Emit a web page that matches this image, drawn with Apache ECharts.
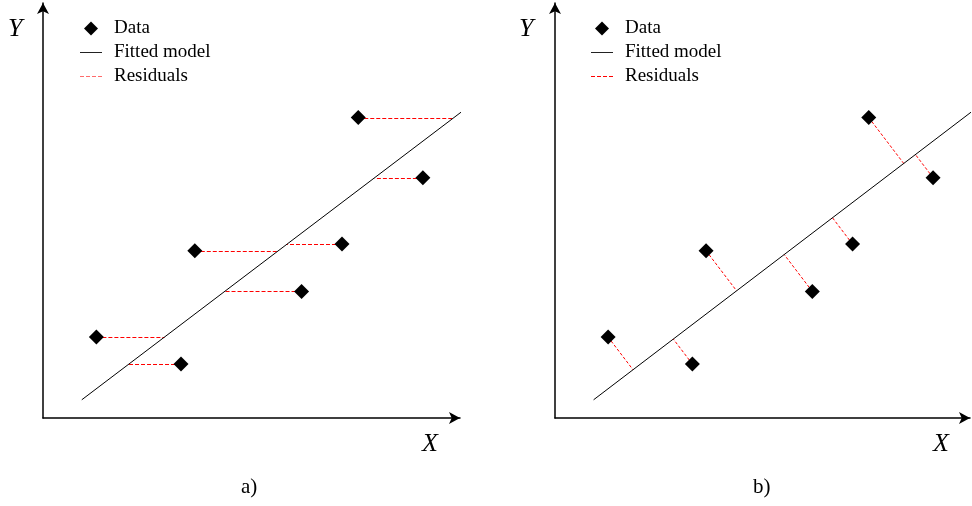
<!DOCTYPE html>
<html>
<head>
<meta charset="utf-8">
<script src="https://cdn.jsdelivr.net/npm/echarts@6/dist/echarts.min.js"></script>
<style>
  html, body {margin: 0; padding: 0; background: #fff;}
  #chart {width: 972px; height: 506px;}
</style>
</head>
<body>
<div id="chart"></div>
<script>
// data points (same in both panels)
var dataX = [1.28, 3.31, 3.64, 6.20, 7.17, 7.56, 9.11];
var dataY = [1.95, 1.30, 4.03, 3.05, 4.19, 7.24, 5.79];
// fitted model y = slope * x + intercept, drawn over fitX
var slope = 0.762;
var intercept = -0.27;
var fitX = [0.93, 10.22];
var panelNames = ['a)', 'b)'];

function pts() {
    return dataX.map(function (x, i) { return [x, dataY[i]]; });
}
function fitLine() {
    return fitX.map(function (x) { return [x, slope * x + intercept]; });
}
// a) horizontal residuals: [x, y, xEnd, yEnd]
function resHoriz() {
    return dataX.map(function (x, i) {
        var y = dataY[i];
        return [x, y, (y - intercept) / slope, y];
    });
}
// b) perpendicular residuals
function resPerp() {
    return dataX.map(function (x, i) {
        var y = dataY[i];
        var d = (slope * x - y + intercept) / (slope * slope + 1);
        return [x, y, x - slope * d, y + d];
    });
}

var chart = echarts.init(document.getElementById('chart'));
var font = "'Liberation Serif', 'Times New Roman', serif";

function axisOpt(i) {
    return {gridIndex: i, type: 'value', min: 0, max: 10,
        axisLine: {show: true, symbol: ['none', 'arrow'], symbolSize: [9, 11], lineStyle: {color: '#000', width: 1.5}},
        axisTick: {show: false}, axisLabel: {show: false}, splitLine: {show: false}};
}
function legend(left, resColor) {
    return {left: left, top: 14, orient: 'vertical', itemWidth: 22, itemHeight: 14, itemGap: 5,
        textStyle: {fontFamily: font, fontSize: 19, color: '#000', lineHeight: 19, padding: [0, 0, 0, 7]},
        data: [
            {name: 'Data', icon: 'path://M7,0L14,7L7,14L0,7Z', itemStyle: {color: '#000', borderWidth: 0}},
            {name: 'Fitted model', icon: 'path://M0,0h22v1h-22z', itemStyle: {color: '#222', borderWidth: 0}},
            {name: 'Residuals', icon: 'path://M0,0h4v1h-4zM6,0h4v1h-4zM12,0h4v1h-4zM18,0h4v1h-4z',
                itemStyle: {color: resColor, borderWidth: 0}}
        ]};
}

function residualSeries(i) {
    var dash = i === 0 ? [4, 2] : [3, 2];
    return {name: 'Residuals', type: 'custom', xAxisIndex: i, yAxisIndex: i, silent: true, clip: false,
        data: i === 0 ? resHoriz() : resPerp(),
        itemStyle: {color: '#f00'},
        renderItem: function (params, api) {
            var a = api.coord([api.value(0), api.value(1)]);
            var b = api.coord([api.value(2), api.value(3)]);
            var y1 = a[1], y2 = b[1];
            if (i === 0) { y1 = y2 = Math.round(a[1]) + 0.5; }  // crisp horizontal dashes
            return {type: 'line', shape: {x1: a[0], y1: y1, x2: b[0], y2: y2},
                style: {stroke: '#f00', lineWidth: 1, lineDash: dash, fill: null}};
        }};
}

var series = [];
[0, 1].forEach(function (i) {
    series.push({name: 'Fitted model', type: 'line', xAxisIndex: i, yAxisIndex: i, data: fitLine(),
        symbol: 'none', clip: false, silent: true, lineStyle: {color: '#000', width: 1}});
    series.push(residualSeries(i));
    series.push({name: 'Data', type: 'scatter', xAxisIndex: i, yAxisIndex: i, data: pts(),
        symbol: 'diamond', symbolSize: 15, itemStyle: {color: '#000', opacity: 1}});
});

var labelStyle = {fontFamily: font, fontSize: 26, fontStyle: 'italic', fill: '#000'};
var option = {
    animation: false,
    backgroundColor: '#fff',
    grid: [
        {left: 43, top: 3, width: 417, height: 415},
        {left: 555, top: 3, width: 415, height: 415}
    ],
    xAxis: [axisOpt(0), axisOpt(1)],
    yAxis: [axisOpt(0), axisOpt(1)],
    legend: [legend(75, '#ff6b6b'), legend(586, '#f00')],
    series: series,
    graphic: [
        {type: 'text', left: 8, top: 16, style: Object.assign({text: 'Y'}, labelStyle)},
        {type: 'text', left: 519, top: 16, style: Object.assign({text: 'Y'}, labelStyle)},
        {type: 'text', left: 422, top: 431, style: Object.assign({text: 'X'}, labelStyle)},
        {type: 'text', left: 933, top: 431, style: Object.assign({text: 'X'}, labelStyle)},
        {type: 'text', left: 241, top: 477, style: {text: panelNames[0], fontFamily: font, fontSize: 21, fill: '#000'}},
        {type: 'text', left: 753, top: 477, style: {text: panelNames[1], fontFamily: font, fontSize: 21, fill: '#000'}}
    ]
};
chart.setOption(option);
</script>
</body>
</html>
